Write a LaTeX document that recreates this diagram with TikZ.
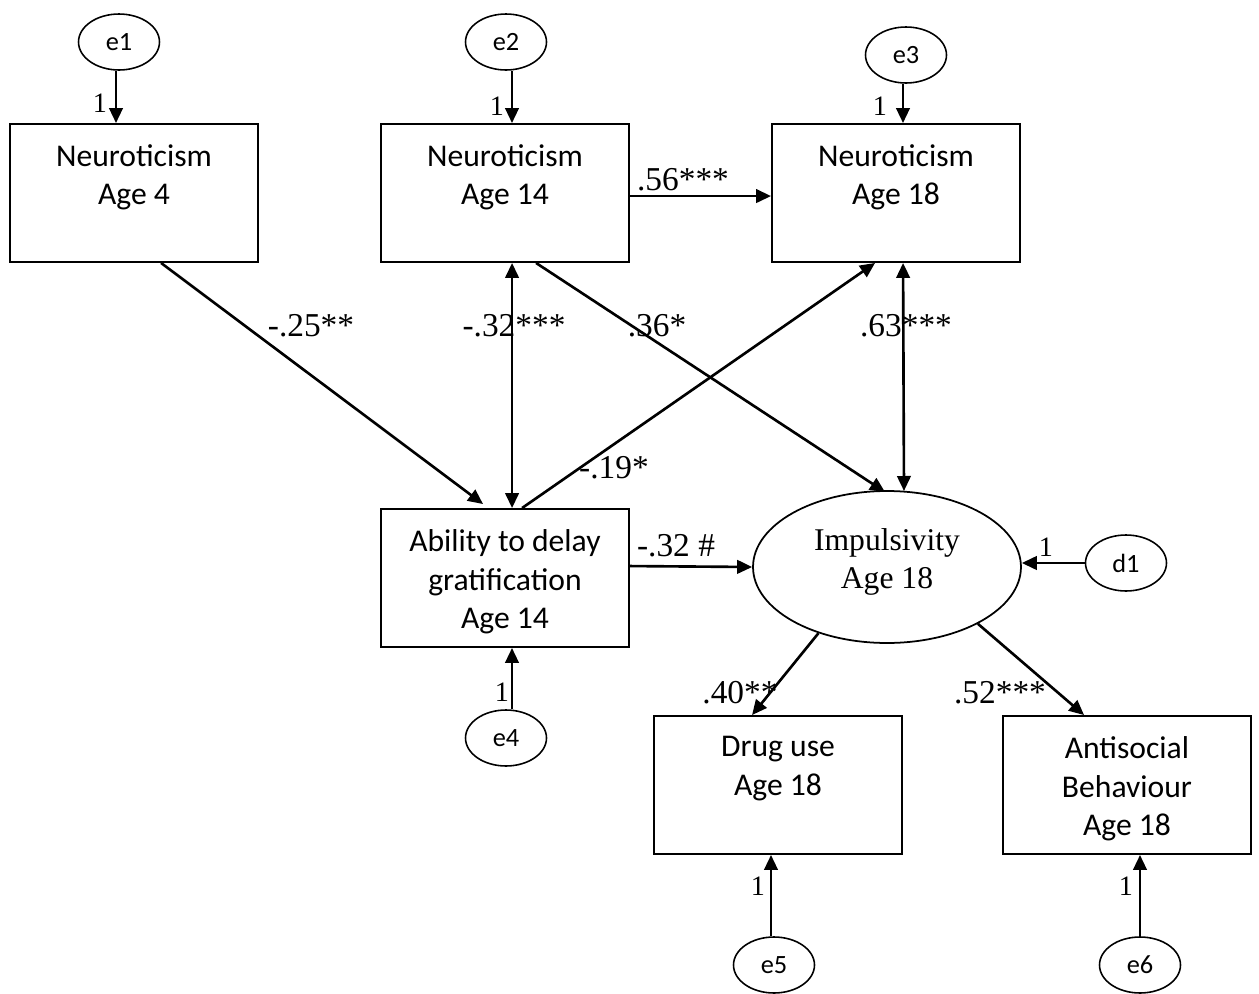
\documentclass[tikz,border=0pt]{standalone}
\usepackage{fontspec}
\setmainfont{Liberation Serif}
\newfontfamily\boxfont{Carlito}
\usetikzlibrary{arrows.meta,shapes.geometric,calc}
\begin{document}
\begin{tikzpicture}[x=0.02cm,y=-0.02cm,
  box/.style={draw,line width=1.1pt,rectangle,minimum width=4.96cm,minimum height=2.76cm,inner sep=0pt},
  boxtext/.style={anchor=north,align=center,inner sep=0pt,font=\boxfont\fontsize{18}{22}\selectfont},
  err/.style={draw,line width=0.9pt,ellipse,minimum width=1.62cm,minimum height=1.12cm,inner sep=0pt,font=\boxfont\fontsize{15}{17}\selectfont},
  lat/.style={draw,line width=1pt,ellipse,minimum width=5.36cm,minimum height=3.04cm,inner sep=0pt},
  coef/.style={inner sep=0pt,font=\fontsize{19}{21}\selectfont},
  one/.style={inner sep=0pt,font=\fontsize{16}{18}\selectfont},
  arr/.style={line width=1.5pt,-{Triangle[length=0.3cm,width=0.27cm]}},
  darr/.style={line width=1.5pt,{Triangle[length=0.3cm,width=0.27cm]}-{Triangle[length=0.3cm,width=0.27cm]}}]
\useasboundingbox (0,0) rectangle (1259,994);
\clip (0,0) rectangle (1259,994);

% boxes
\node[box] (n4) at (134,193) {};
\node[box] (n14) at (505,193) {};
\node[box] (n18) at (896,193) {};
\node[box] (delay) at (505,578) {};
\node[box] (drug) at (778,785) {};
\node[box] (anti) at (1127,785) {};
\node[lat] (imp) at (887,567) {};

\node[boxtext] (t4) at ($(n4.north)+(0,21)$) {Neuroticism\\Age 4};
\node[boxtext] (t14) at ($(n14.north)+(0,21)$) {Neuroticism\\Age 14};
\node[boxtext] (t18) at ($(n18.north)+(0,21)$) {Neuroticism\\Age 18};
\node[boxtext] (tdelay) at ($(delay.north)+(0,21)$) {Ability to delay\\gratification\\Age 14};
\node[boxtext] (tdrug) at ($(drug.north)+(0,21)$) {Drug use\\Age 18};
\node[boxtext] (tanti) at ($(anti.north)+(0,21)$) {Antisocial\\Behaviour\\Age 18};
\node[align=center,inner sep=0pt,font=\fontsize{18}{22}\selectfont] (timp) at (887,562) {Impulsivity\\Age 18};

% error terms
\node[err] (e1) at (119,42) {e1};
\node[err] (e2) at (506,42) {e2};
\node[err] (e3) at (906,55) {e3};
\node[err] (d1) at (1126,563) {d1};
\node[err] (e4) at (506,738) {e4};
\node[err] (e5) at (774,965) {e5};
\node[err] (e6) at (1140,965) {e6};

% error arrows
\draw[arr] ($(e1.south)+(-3,0)$) -- ($(e1.south |- n4.north)+(-3,0)$);
\draw[arr] ($(e2.south)+(6,0)$) -- ($(e2.south |- n14.north)+(6,0)$);
\draw[arr] ($(e3.south)+(-3,0)$) -- ($(e3.south |- n18.north)+(-3,0)$);
\draw[arr] (d1.west) -- (d1.west -| imp.east);
\draw[arr] ($(e4.north)+(6,0)$) -- ($(e4.north |- delay.south)+(6,0)$);
\draw[arr] ($(e5.north)+(-3,0)$) -- ($(e5.north |- drug.south)+(-3,0)$);
\draw[arr] (e6.north) -- (e6.north |- anti.south);

% paths
\draw[arr] ($(n14.north east)+(0,73)$) -- ($(n18.north west)+(0,73)$);
\draw[arr] ($(n4.south west)+(152,0)$) -- ($(delay.north west)+(103,-4)$);
\draw[darr] ($(n14.south west)+(132,0)$) -- ($(delay.north west)+(132,0)$);
\draw[arr] ($(delay.north west)+(142,0)$) -- ($(n18.south west)+(104,0)$);
\draw[arr] ($(n14.south west)+(156,0)$) -- (885,492);
\draw[darr] ($(n18.south west)+(132,0)$) -- (904,491);
\draw[arr] ($(delay.north east)+(0,58)$) -- (imp.west |- 0,567);
\draw[arr] (imp.-136) -- ($(drug.north west)+(99,0)$);
\draw[arr] (imp.-32) -- ($(anti.north west)+(82,0)$);

% labels
\node[one] (l1) at (100,103) {1};
\node[one] (l2) at (497,106) {1};
\node[one] (l3) at (880,106) {1};
\node[one] (l4) at (1046,547) {1};
\node[one] (l5) at (502,692) {1};
\node[one] (l6) at (758,886) {1};
\node[one] (l7) at (1126,886) {1};
\node[coef] (c1) at (683,180) {.56***};
\node[coef] (c2) at (311,326) {-.25**};
\node[coef] (c3) at (514,326) {-.32***};
\node[coef] (c4) at (657,326) {.36*};
\node[coef] (c5) at (906,326) {.63***};
\node[coef] (c6) at (614,468) {-.19*};
\node[coef] (c7) at (676,546) {-.32 \#};
\node[coef] (c8) at (740,693) {.40**};
\node[coef] (c9) at (1000,693) {.52***};
\end{tikzpicture}
\end{document}
